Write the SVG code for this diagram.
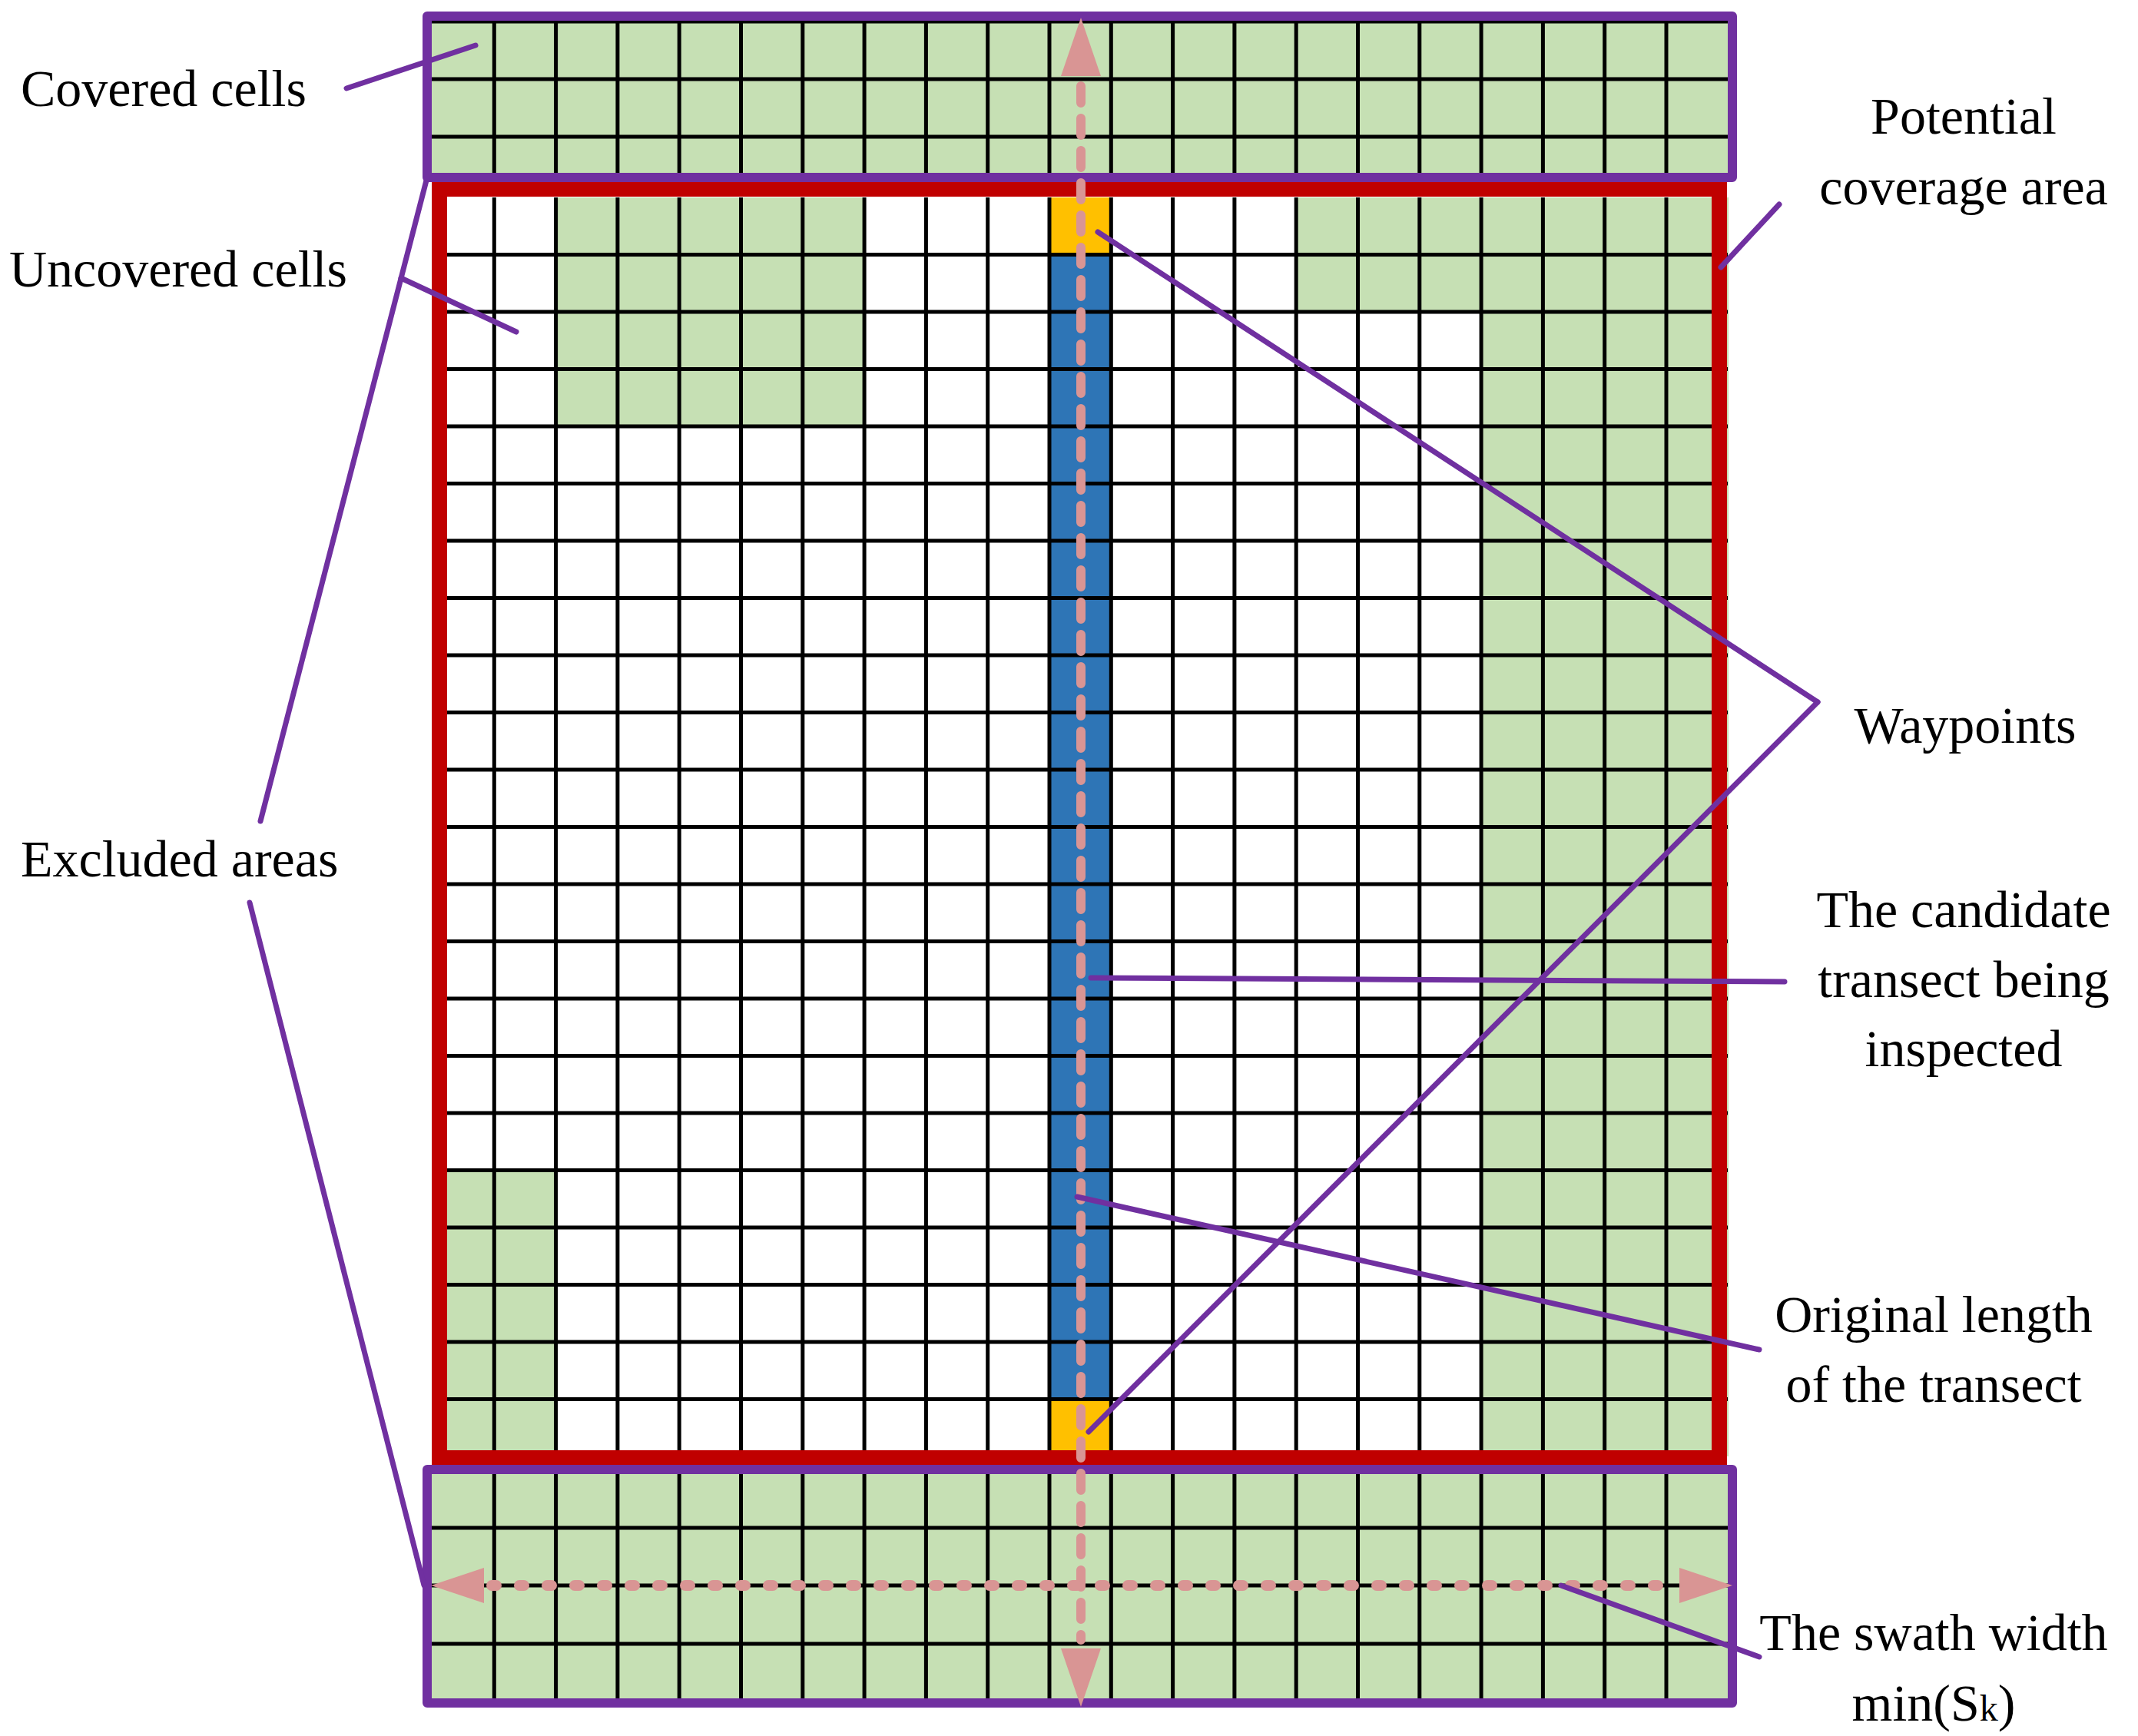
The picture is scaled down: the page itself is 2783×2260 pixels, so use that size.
<svg xmlns="http://www.w3.org/2000/svg" width="2783" height="2260" viewBox="0 0 2783 2260">
<style>
.g{fill:#C6E0B4}
.grid{stroke:#000;stroke-width:5;fill:none}
.lead{stroke:#7030A0;stroke-width:7;stroke-linecap:round;fill:none}
.t{font-family:"Liberation Serif","Times New Roman",serif;font-size:68px;fill:#000}
.pk{fill:#D99594}
</style>
<rect width="2783" height="2260" fill="#fff"/>
<g id="bands">
<rect class="g" x="556" y="21" width="1699" height="210"/>
<rect class="g" x="556" y="1913" width="1699" height="304"/>
</g>
<g id="cells">
<rect class="g" x="723.6" y="257" width="401.5" height="298"/>
<rect class="g" x="1687.2" y="257" width="240.9" height="149"/>
<rect class="g" x="1928.1" y="257" width="322" height="1639"/>
<rect class="g" x="563" y="1523.5" width="160.6" height="372.5"/>
<rect fill="#FFC000" x="1366" y="257" width="80.3" height="74.5"/>
<rect fill="#FFC000" x="1366" y="1821.5" width="80.3" height="74.5"/>
<rect fill="#2E75B6" x="1366" y="331.5" width="80.3" height="1490"/>
</g>
<g id="grid">
<path class="grid" d="M643.3 257V1896M723.6 257V1896M803.9 257V1896M884.2 257V1896M964.5 257V1896M1044.8 257V1896M1125.1 257V1896M1205.4 257V1896M1285.7 257V1896M1366 257V1896M1446.3 257V1896M1526.6 257V1896M1606.9 257V1896M1687.2 257V1896M1767.5 257V1896M1847.8 257V1896M1928.1 257V1896M2008.4 257V1896M2088.7 257V1896M2169 257V1896
M563 331.5H2249M563 406H2249M563 480.5H2249M563 555H2249M563 629.5H2249M563 704H2249M563 778.5H2249M563 853H2249M563 927.5H2249M563 1002H2249M563 1076.5H2249M563 1151H2249M563 1225.5H2249M563 1300H2249M563 1374.5H2249M563 1449H2249M563 1523.5H2249M563 1598H2249M563 1672.5H2249M563 1747H2249M563 1821.5H2249"/>
<path class="grid" d="M643.3 21V231M723.6 21V231M803.9 21V231M884.2 21V231M964.5 21V231M1044.8 21V231M1125.1 21V231M1205.4 21V231M1285.7 21V231M1366 21V231M1446.3 21V231M1526.6 21V231M1606.9 21V231M1687.2 21V231M1767.5 21V231M1847.8 21V231M1928.1 21V231M2008.4 21V231M2088.7 21V231M2169 21V231
M556 28H2255M556 103H2255M556 178H2255"/>
<path class="grid" d="M643.3 1913V2217M723.6 1913V2217M803.9 1913V2217M884.2 1913V2217M964.5 1913V2217M1044.8 1913V2217M1125.1 1913V2217M1205.4 1913V2217M1285.7 1913V2217M1366 1913V2217M1446.3 1913V2217M1526.6 1913V2217M1606.9 1913V2217M1687.2 1913V2217M1767.5 1913V2217M1847.8 1913V2217M1928.1 1913V2217M2008.4 1913V2217M2088.7 1913V2217M2169 1913V2217
M556 1989H2255M556 2064H2255M556 2140H2255M556 2215H2255"/>
</g>
<g id="borders">
<rect x="572" y="246" width="1666" height="1652" fill="none" stroke="#C00000" stroke-width="20"/>
<rect x="556" y="21" width="1699" height="210" fill="none" stroke="#7030A0" stroke-width="12" stroke-linejoin="round"/>
<rect x="556" y="1913" width="1699" height="304" fill="none" stroke="#7030A0" stroke-width="12" stroke-linejoin="round"/>
</g>
<g id="arrows">
<line x1="1407" y1="112" x2="1407" y2="2135" stroke="#D99594" stroke-width="12" stroke-linecap="round" stroke-dasharray="22 20"/>
<polygon class="pk" points="1407,23 1381,99 1433,99"/>
<polygon class="pk" points="1407,2222 1381,2146 1433,2146"/>
<line x1="640" y1="2064" x2="2176" y2="2064" stroke="#D99594" stroke-width="14" stroke-linecap="round" stroke-dasharray="6 30"/>
<polygon class="pk" points="561,2064 630,2041 630,2087"/>
<polygon class="pk" points="2255,2064 2186,2041 2186,2087"/>
</g>
<g id="connectors">
<line class="lead" x1="451" y1="115" x2="619" y2="59"/>
<line class="lead" x1="522" y1="362" x2="672" y2="432"/>
<line class="lead" x1="339" y1="1069" x2="556" y2="231"/>
<line class="lead" x1="325" y1="1175" x2="552" y2="2064"/>
<line class="lead" x1="2316" y1="266" x2="2240" y2="348"/>
<line class="lead" x1="2366" y1="914" x2="1429" y2="302"/>
<line class="lead" x1="2366" y1="914" x2="1417" y2="1864"/>
<line class="lead" x1="2323" y1="1278" x2="1420" y2="1273"/>
<line class="lead" x1="2290" y1="1757" x2="1402" y2="1558"/>
<line class="lead" x1="2290" y1="2157" x2="2032" y2="2064"/>
</g>
<g id="labels">
<text class="t" x="27" y="138">Covered cells</text>
<text class="t" x="12" y="373">Uncovered cells</text>
<text class="t" x="27" y="1141">Excluded areas</text>
<text class="t" x="2556" y="174" text-anchor="middle">Potential</text>
<text class="t" x="2556" y="266" text-anchor="middle">coverage area</text>
<text class="t" x="2558" y="967" text-anchor="middle">Waypoints</text>
<text class="t" x="2556" y="1207" text-anchor="middle">The candidate</text>
<text class="t" x="2556" y="1298" text-anchor="middle">transect being</text>
<text class="t" x="2556" y="1388" text-anchor="middle">inspected</text>
<text class="t" x="2517" y="1734" text-anchor="middle">Original length</text>
<text class="t" x="2517" y="1825" text-anchor="middle">of the transect</text>
<text class="t" x="2517" y="2148" text-anchor="middle">The swath width</text>
<text class="t" x="2517" y="2240" text-anchor="middle">min(S<tspan font-size="48">k</tspan>)</text>
</g>
</svg>
